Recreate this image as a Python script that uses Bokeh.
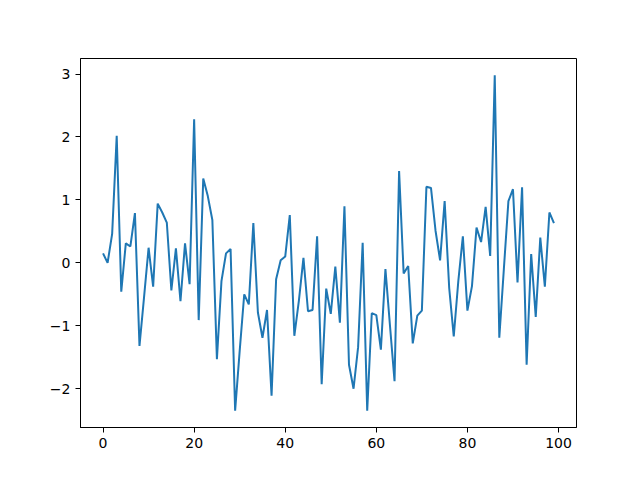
from bokeh.plotting import figure
from bokeh.models import Range1d, FixedTicker
from bokeh.embed import file_html
from bokeh.resources import INLINE

x_values = list(range(100))
y_values = [
    0.15, 0.00, 0.46, 2.02, -0.46, 0.31, 0.26, 0.79, -1.32, -0.55,
    0.24, -0.38, 0.94, 0.80, 0.64, -0.44, 0.23, -0.61, 0.31, -0.34,
    2.28, -0.91, 1.34, 1.06, 0.68, -1.53, -0.29, 0.15, 0.22, -2.35,
    -1.40, -0.50, -0.66, 0.63, -0.79, -1.19, -0.75, -2.11, -0.26, 0.04,
    0.10, 0.76, -1.16, -0.60, 0.08, -0.77, -0.75, 0.42, -1.93, -0.41,
    -0.81, -0.06, -0.95, 0.90, -1.62, -2.00, -1.34, 0.32, -2.35, -0.80,
    -0.83, -1.38, -0.10, -1.00, -1.88, 1.46, -0.17, -0.05, -1.28, -0.84,
    -0.76, 1.21, 1.19, 0.51, 0.04, 0.98, -0.40, -1.17, -0.29, 0.42,
    -0.76, -0.37, 0.56, 0.33, 0.89, 0.11, 2.98, -1.19, -0.10, 0.98,
    1.17, -0.31, 1.20, -1.62, 0.14, -0.86, 0.40, -0.38, 0.80, 0.63,
]
x_ticks = [0, 20, 40, 60, 80, 100]
y_ticks = [-2, -1, 0, 1, 2, 3]

p = figure(width=624, height=464, output_backend="svg", toolbar_location=None,
           x_range=Range1d(-4.95, 103.95), y_range=Range1d(-2.6165, 3.2465),
           min_border_left=80, min_border_right=48, min_border_top=58, min_border_bottom=37)
p.line(x_values, y_values, line_color="#1f77b4", line_width=2)

p.grid.visible = False
p.outline_line_color = "black"
p.outline_line_width = 1
p.background_fill_color = "white"
p.border_fill_color = "white"

for ax, ticks in ((p.xaxis[0], x_ticks), (p.yaxis[0], y_ticks)):
    ax.ticker = FixedTicker(ticks=ticks)
    ax.minor_tick_line_color = None
    ax.major_tick_in = 0
    ax.major_tick_out = 5
    ax.major_tick_line_color = "black"
    ax.axis_line_color = "black"
    ax.major_label_text_font = "DejaVu Sans"
    ax.major_label_text_font_size = "14px"
    ax.major_label_text_color = "black"
    ax.major_label_standoff = 5

p.yaxis[0].major_label_overrides = {t: (str(t).replace("-", "\u2212")) for t in y_ticks}
p.xaxis[0].major_label_overrides = {t: str(t) for t in x_ticks}

open("out.html", "w").write(file_html(p, INLINE))
